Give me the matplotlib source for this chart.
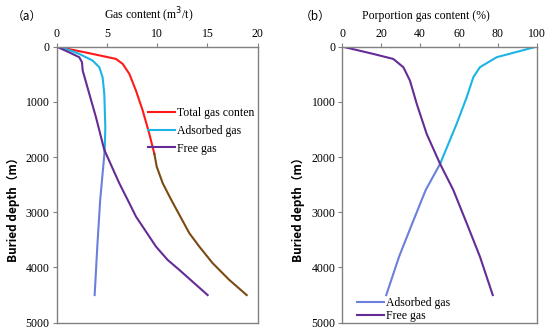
import numpy as np
import matplotlib.pyplot as plt
from matplotlib.lines import Line2D

# Данные (a): содержание газа, м3/т, по глубине
total_depth = [0, 110, 223, 313, 494, 797, 1159, 1581, 1943, 2173, 2474, 2776, 3078, 3380, 3622, 3923, 4225, 4500]
total_gas = [0, 3.0, 5.9, 6.57, 7.23, 7.89, 8.56, 9.22, 9.72, 9.95, 10.55, 11.4, 12.3, 13.2, 14.19, 15.52, 17.17, 18.9]

ads_depth = [0, 60, 132, 253, 373, 554, 857, 1460, 1883, 2776, 3600, 4500]
ads_gas = [0, 1.2, 2.25, 3.58, 4.24, 4.57, 4.74, 4.84, 4.78, 4.33, 4.05, 3.78]

free_depth = [0, 100, 192, 283, 434, 857, 1279, 1871, 2474, 2836, 3078, 3622, 3863, 4044, 4500]
free_gas = [0, 1.2, 2.25, 2.52, 2.59, 3.25, 3.91, 4.74, 6.23, 7.23, 7.89, 9.88, 11.04, 12.2, 15.02]

# Данные (b): доля газа, %
free_pct_depth = [0, 132, 223, 373, 616, 1038, 1581, 2124, 2597, 3200, 3804, 4500]
free_pct = [0, 15.9, 26.2, 31.4, 34.8, 38.3, 43.4, 50.3, 57.1, 64.0, 70.8, 77.4]

ads_pct_depth = [0, 192, 373, 554, 916, 1400, 2124, 2597, 3200, 3804, 4500]
ads_pct = [100, 79.4, 70.8, 67.4, 64.0, 58.8, 50.3, 42.9, 36.0, 29.2, 22.6]

RED, RED_LOW = '#ff1a1a', '#7a4a12'
CYAN, CYAN_LOW = '#1cb4e4', '#6b7fdc'
PURPLE = '#642c94'
SPLIT = 2150

serif = 'Liberation Serif'
sans = ['Noto Sans CJK SC', 'DejaVu Sans']


def plot_split(ax, x, d, c_top, c_low):
    # верх и низ кривой разного цвета, как на исходнике
    x, d = np.asarray(x), np.asarray(d)
    k = np.searchsorted(d, SPLIT, side='right') - 1
    ax.plot(x[:k + 1], d[:k + 1], color=c_top, lw=1.5, solid_joinstyle='round')
    ax.plot(x[k:], d[k:], color=c_low, lw=1.5, solid_joinstyle='round')


def style(ax, xmax, xticks):
    ax.set_xlim(0, xmax)
    ax.set_ylim(5000, 0)
    ax.set_xticks(xticks)
    ax.set_yticks([0, 1000, 2000, 3000, 4000, 5000])
    ax.xaxis.tick_top()
    for s in ax.spines.values():
        s.set_color('#808080')
        s.set_linewidth(1.0)
    ax.tick_params(colors='#808080', length=3, labelcolor='black', labelsize=8.5, pad=2)
    ax.tick_params(axis='y', right=False)
    ax.tick_params(axis='x', bottom=False)
    for lab in ax.get_xticklabels() + ax.get_yticklabels():
        lab.set_fontfamily(serif)


fig = plt.figure(figsize=(5.5, 3.33), dpi=100)
ax1 = fig.add_axes([0.103, 0.031, 0.3656, 0.829])
ax2 = fig.add_axes([0.6224, 0.031, 0.3534, 0.829])

# (a)
plot_split(ax1, total_gas, total_depth, RED, RED_LOW)
plot_split(ax1, ads_gas, ads_depth, CYAN, CYAN_LOW)
ax1.plot(free_gas, free_depth, color=PURPLE, lw=1.5, solid_joinstyle='round')
style(ax1, 20, [0, 5, 10, 15, 20])

h1 = [Line2D([], [], color=c, lw=1.5) for c in (RED, CYAN, PURPLE)]
ax1.legend(h1, ['Total gas conten', 'Adsorbed gas', 'Free gas'],
           loc='upper left', bbox_to_anchor=(0.454, 0.782), frameon=False,
           prop={'family': serif, 'size': 8.5}, handlelength=2.3,
           handletextpad=0.15, labelspacing=0.5, borderaxespad=0, borderpad=0)

# (b)
plot_split(ax2, ads_pct, ads_pct_depth, CYAN, CYAN_LOW)
ax2.plot(free_pct, free_pct_depth, color=PURPLE, lw=1.5, solid_joinstyle='round')
style(ax2, 100, [0, 20, 40, 60, 80, 100])

h2 = [Line2D([], [], color=c, lw=1.5) for c in (CYAN_LOW, PURPLE)]
ax2.legend(h2, ['Adsorbed gas', 'Free gas'],
           loc='lower left', bbox_to_anchor=(0.074, 0.003), frameon=False,
           prop={'family': serif, 'size': 8.5}, handlelength=2.3,
           handletextpad=0.15, labelspacing=0.1, borderaxespad=0, borderpad=0)

# подписи
fig.text(0.271, 0.952, 'Gas content (m$^3$/t)', family=serif, fontsize=8.5,
         ha='center', va='center')
fig.text(0.774, 0.952, 'Porportion gas content (%)', family=serif, fontsize=8.5,
         ha='center', va='center')
fig.text(0.049, 0.952, '（a）', family=sans, fontsize=8.5, ha='center', va='center')
fig.text(0.573, 0.952, '（b）', family=sans, fontsize=8.5, ha='center', va='center')
for x in (0.024, 0.542):
    fig.text(x, 0.378, 'Buried depth（m）', family=sans, fontsize=8.5,
             fontweight='bold', rotation=90, ha='center', va='center')

fig.savefig('out.png', dpi=100)
